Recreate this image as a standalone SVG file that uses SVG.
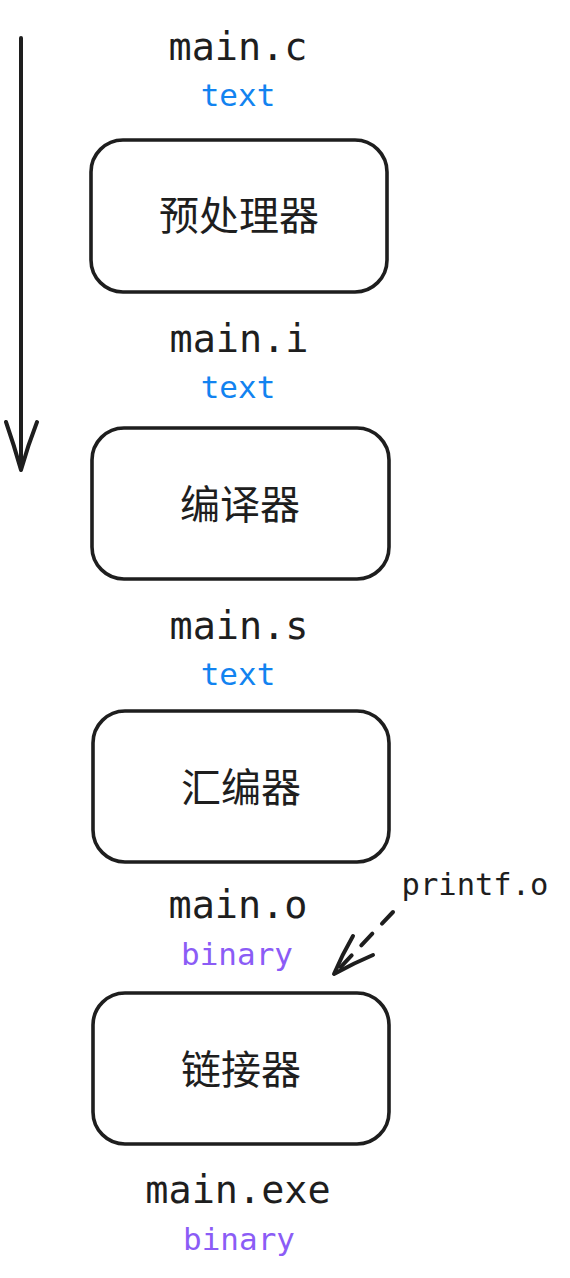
<svg xmlns="http://www.w3.org/2000/svg" width="570" height="1278" viewBox="0 0 570 1278">
<style>
.box{fill:#fff;stroke:#1e1e1e;stroke-width:3.6}
.file{font-family:"DejaVu Sans Mono","Liberation Mono",monospace;font-size:38.5px;fill:#1e1e1e;text-anchor:middle}
.kind{font-family:"DejaVu Sans Mono","Liberation Mono",monospace;font-size:31px;text-anchor:middle}
.t{fill:#1283f0}
.b{fill:#8b5cf6}
.cn{font-family:"Noto Sans CJK SC",sans-serif;font-size:40px;fill:#1e1e1e;text-anchor:middle}
.ln{fill:none;stroke:#1e1e1e;stroke-width:4;stroke-linecap:round;stroke-linejoin:round}
</style>
<rect width="570" height="1278" fill="#fff"/>
<g id="connectors">
<path class="ln" d="M21 38 L21 470 M6 422 Q14 445 21 470 Q28 445 37 422"/>
<path class="ln" d="M393 912 L335 973" stroke-dasharray="16 14"/>
<path class="ln" d="M353 936 Q342 955 334 974 Q354 963 373 955"/>
</g>
<g id="labels">
<text class="file" x="238" y="60">main.c</text>
<text class="kind t" x="238" y="106">text</text>
<text class="file" x="239" y="352">main.i</text>
<text class="kind t" x="238" y="398">text</text>
<text class="file" x="239" y="639">main.s</text>
<text class="kind t" x="238" y="685">text</text>
<text class="file" x="238" y="918">main.o</text>
<text class="kind b" x="237" y="965">binary</text>
<text class="file" x="238" y="1203">main.exe</text>
<text class="kind b" x="239" y="1250">binary</text>
<text x="475" y="895" style="font-family:'DejaVu Sans Mono','Liberation Mono',monospace;font-size:30.5px;fill:#1e1e1e;text-anchor:middle">printf.o</text>
</g>
<g id="preprocessor">
<rect class="box" x="91" y="140" width="296" height="152" rx="32"/>
<text class="cn" x="239" y="230">预处理器</text>
</g>
<g id="compiler">
<rect class="box" x="92" y="428" width="297" height="151" rx="32"/>
<text class="cn" x="240" y="519">编译器</text>
</g>
<g id="assembler">
<rect class="box" x="93" y="711" width="296" height="151" rx="32"/>
<text class="cn" x="241" y="802">汇编器</text>
</g>
<g id="linker">
<rect class="box" x="93" y="993" width="296" height="151" rx="32"/>
<text class="cn" x="241" y="1084">链接器</text>
</g>
</svg>
